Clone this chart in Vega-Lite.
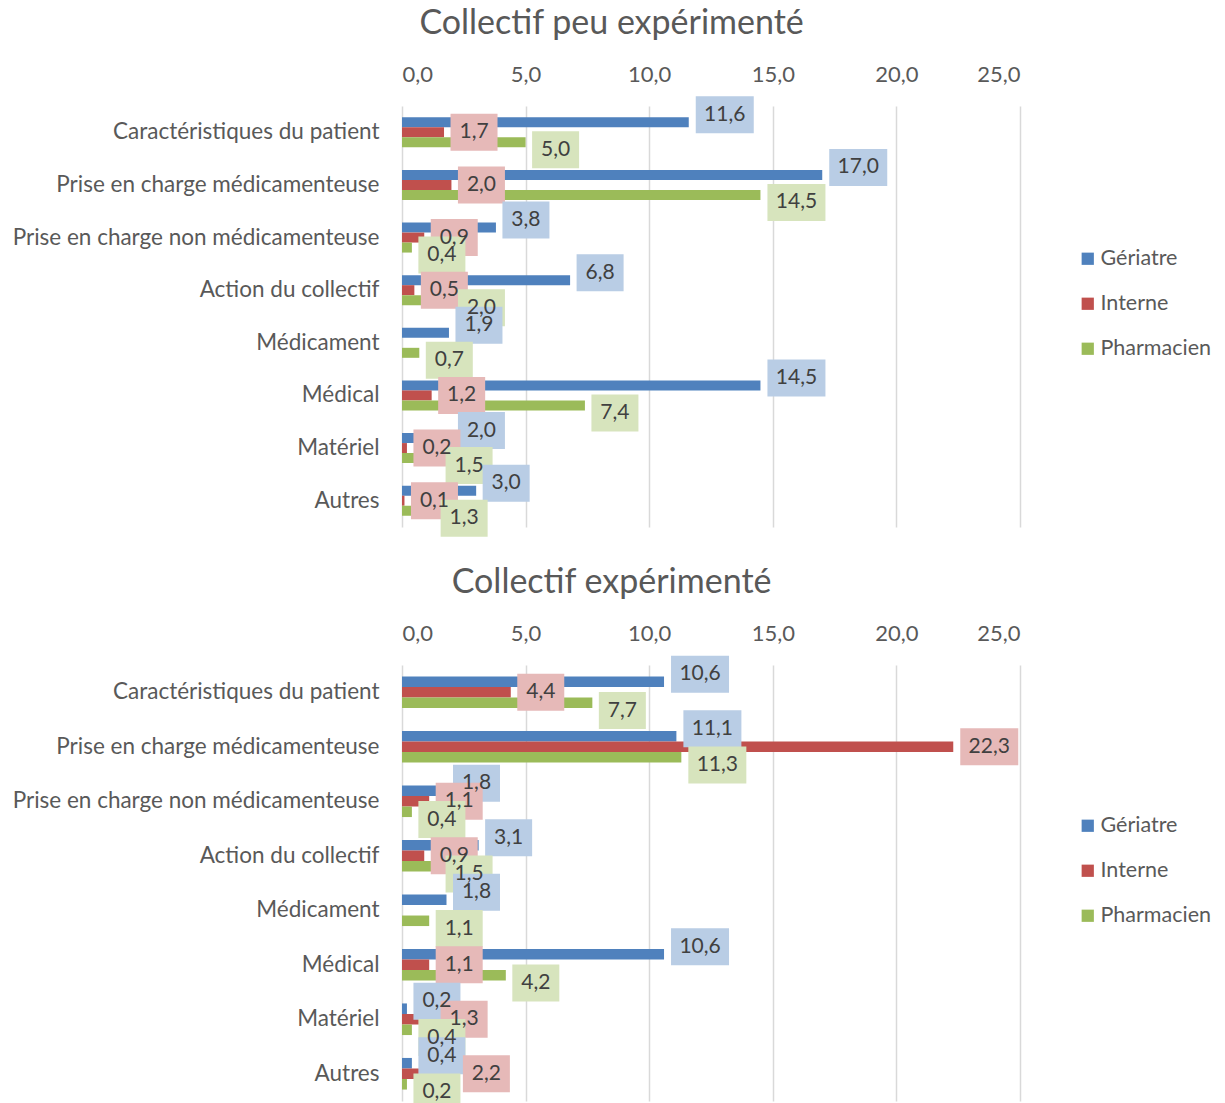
{
  "$schema": "https://vega.github.io/schema/vega-lite/v6.json",
  "padding": {"left": 12, "top": 7, "right": 0, "bottom": 0},
  "background": "white",
  "config": {
    "font": "Lato",
    "view": {"stroke": null},
    "locale": {"number": {"decimal": ",", "thousands": " ", "grouping": [3], "currency": ["", " €"]}},
    "axis": {"labelFont": "Lato", "labelColor": "#595959", "labelFontSize": 22, "domain": false, "ticks": false, "title": null},
    "legend": {"labelFont": "Lato", "labelColor": "#595959", "labelFontSize": 21.5},
    "title": {"font": "Lato", "fontSize": 34, "fontWeight": "normal", "color": "#595959", "anchor": "middle", "frame": "bounds", "offset": 22}
  },
  "datasets": {
    "d": [
      {"panel": "peu", "cat": "Caractéristiques du patient", "series": "Gériatre", "value": 11.6},
      {"panel": "peu", "cat": "Caractéristiques du patient", "series": "Interne", "value": 1.7},
      {"panel": "peu", "cat": "Caractéristiques du patient", "series": "Pharmacien", "value": 5.0},
      {"panel": "peu", "cat": "Prise en charge médicamenteuse", "series": "Gériatre", "value": 17.0},
      {"panel": "peu", "cat": "Prise en charge médicamenteuse", "series": "Interne", "value": 2.0},
      {"panel": "peu", "cat": "Prise en charge médicamenteuse", "series": "Pharmacien", "value": 14.5},
      {"panel": "peu", "cat": "Prise en charge non médicamenteuse", "series": "Gériatre", "value": 3.8},
      {"panel": "peu", "cat": "Prise en charge non médicamenteuse", "series": "Interne", "value": 0.9},
      {"panel": "peu", "cat": "Prise en charge non médicamenteuse", "series": "Pharmacien", "value": 0.4},
      {"panel": "peu", "cat": "Action du collectif", "series": "Gériatre", "value": 6.8},
      {"panel": "peu", "cat": "Action du collectif", "series": "Interne", "value": 0.5},
      {"panel": "peu", "cat": "Action du collectif", "series": "Pharmacien", "value": 2.0},
      {"panel": "peu", "cat": "Médicament", "series": "Gériatre", "value": 1.9},
      {"panel": "peu", "cat": "Médicament", "series": "Pharmacien", "value": 0.7},
      {"panel": "peu", "cat": "Médical", "series": "Gériatre", "value": 14.5},
      {"panel": "peu", "cat": "Médical", "series": "Interne", "value": 1.2},
      {"panel": "peu", "cat": "Médical", "series": "Pharmacien", "value": 7.4},
      {"panel": "peu", "cat": "Matériel", "series": "Gériatre", "value": 2.0},
      {"panel": "peu", "cat": "Matériel", "series": "Interne", "value": 0.2},
      {"panel": "peu", "cat": "Matériel", "series": "Pharmacien", "value": 1.5},
      {"panel": "peu", "cat": "Autres", "series": "Gériatre", "value": 3.0},
      {"panel": "peu", "cat": "Autres", "series": "Interne", "value": 0.1},
      {"panel": "peu", "cat": "Autres", "series": "Pharmacien", "value": 1.3},
      {"panel": "exp", "cat": "Caractéristiques du patient", "series": "Gériatre", "value": 10.6},
      {"panel": "exp", "cat": "Caractéristiques du patient", "series": "Interne", "value": 4.4},
      {"panel": "exp", "cat": "Caractéristiques du patient", "series": "Pharmacien", "value": 7.7},
      {"panel": "exp", "cat": "Prise en charge médicamenteuse", "series": "Gériatre", "value": 11.1},
      {"panel": "exp", "cat": "Prise en charge médicamenteuse", "series": "Interne", "value": 22.3},
      {"panel": "exp", "cat": "Prise en charge médicamenteuse", "series": "Pharmacien", "value": 11.3},
      {"panel": "exp", "cat": "Prise en charge non médicamenteuse", "series": "Gériatre", "value": 1.8},
      {"panel": "exp", "cat": "Prise en charge non médicamenteuse", "series": "Interne", "value": 1.1},
      {"panel": "exp", "cat": "Prise en charge non médicamenteuse", "series": "Pharmacien", "value": 0.4},
      {"panel": "exp", "cat": "Action du collectif", "series": "Gériatre", "value": 3.1},
      {"panel": "exp", "cat": "Action du collectif", "series": "Interne", "value": 0.9},
      {"panel": "exp", "cat": "Action du collectif", "series": "Pharmacien", "value": 1.5},
      {"panel": "exp", "cat": "Médicament", "series": "Gériatre", "value": 1.8},
      {"panel": "exp", "cat": "Médicament", "series": "Pharmacien", "value": 1.1},
      {"panel": "exp", "cat": "Médical", "series": "Gériatre", "value": 10.6},
      {"panel": "exp", "cat": "Médical", "series": "Interne", "value": 1.1},
      {"panel": "exp", "cat": "Médical", "series": "Pharmacien", "value": 4.2},
      {"panel": "exp", "cat": "Matériel", "series": "Gériatre", "value": 0.2},
      {"panel": "exp", "cat": "Matériel", "series": "Interne", "value": 1.3},
      {"panel": "exp", "cat": "Matériel", "series": "Pharmacien", "value": 0.4},
      {"panel": "exp", "cat": "Autres", "series": "Gériatre", "value": 0.4},
      {"panel": "exp", "cat": "Autres", "series": "Interne", "value": 2.2},
      {"panel": "exp", "cat": "Autres", "series": "Pharmacien", "value": 0.2}
    ]
  },
  "resolve": {"scale": {"x": "independent", "y": "independent", "yOffset": "independent", "color": "independent", "fill": "independent"}, "legend": {"color": "independent"}},
  "spacing": 29,
  "vconcat": [
    {
      "title": {"text": "Collectif peu expérimenté"},
      "data": {"name": "d"},
      "transform": [{"filter": "datum.panel === 'peu'"}],
      "width": 618,
      "height": 421,
      "resolve": {"scale": {"yOffset": "independent"}},
      "encoding": {
        "y": {"field": "cat", "type": "nominal", "sort": ["Caractéristiques du patient", "Prise en charge médicamenteuse", "Prise en charge non médicamenteuse", "Action du collectif", "Médicament", "Médical", "Matériel", "Autres"], "scale": {"paddingInner": 0.43, "paddingOuter": 0.215}, "axis": {"labelPadding": 23, "labelLimit": 600, "grid": false, "labelFontSize": 22.5}},
        "x": {"field": "value", "type": "quantitative", "scale": {"domain": [0, 25], "nice": false}, "axis": {"orient": "top", "values": [0, 5, 10, 15, 20, 25], "format": ".1f", "grid": true, "gridColor": "#D9D9D9", "gridWidth": 1.5, "labelPadding": 20}}
      },
      "layer": [
        {"mark": {"type": "bar"}, "encoding": {
          "yOffset": {"field": "series", "type": "nominal", "scale": {"domain": ["Gériatre", "Interne", "Pharmacien"], "paddingInner": 0, "paddingOuter": 0}},
          "color": {"field": "series", "type": "nominal", "scale": {"domain": ["Gériatre", "Interne", "Pharmacien"], "range": ["#4F81BD", "#C0504D", "#9BBB59"]}, "legend": {"title": null, "orient": "none", "legendX": 675, "legendY": 142, "symbolType": "square", "symbolSize": 150, "rowPadding": 22, "labelOffset": 2, "padding": 0}}}},
        {
          "encoding": {"yOffset": {"field": "series", "type": "nominal", "scale": {"domain": ["Gériatre", "Interne", "Pharmacien"], "range": [-2.5, 32.5], "paddingInner": 0, "paddingOuter": 0}}},
          "layer": [
            {"transform": [{"filter": "datum.value < 10"}], "mark": {"type": "point", "shape": "M-1,-0.787 L1,-0.787 L1,0.787 L-1,0.787 Z", "size": 2209, "filled": true, "opacity": 1, "strokeWidth": 0, "xOffset": 30}, "encoding": {"fill": {"field": "series", "type": "nominal", "scale": {"domain": ["Gériatre", "Interne", "Pharmacien"], "range": ["#B9CDE5", "#E6B9B8", "#D7E4BD"]}, "legend": null}}},
            {"transform": [{"filter": "datum.value >= 10"}], "mark": {"type": "point", "shape": "M-1,-0.638 L1,-0.638 L1,0.638 L-1,0.638 Z", "size": 3364, "filled": true, "opacity": 1, "strokeWidth": 0, "xOffset": 36}, "encoding": {"fill": {"field": "series", "type": "nominal", "scale": {"domain": ["Gériatre", "Interne", "Pharmacien"], "range": ["#B9CDE5", "#E6B9B8", "#D7E4BD"]}, "legend": null}}},
            {"transform": [{"filter": "datum.value < 10"}], "mark": {"type": "text", "align": "center", "baseline": "middle", "dx": 30, "fontSize": 21, "color": "#404040"}, "encoding": {"text": {"field": "value", "type": "quantitative", "format": ".1f"}}},
            {"transform": [{"filter": "datum.value >= 10"}], "mark": {"type": "text", "align": "center", "baseline": "middle", "dx": 36, "fontSize": 21, "color": "#404040"}, "encoding": {"text": {"field": "value", "type": "quantitative", "format": ".1f"}}}
          ]
        }
      ]
    },
    {
      "title": {"text": "Collectif expérimenté"},
      "data": {"name": "d"},
      "transform": [{"filter": "datum.panel === 'exp'"}],
      "width": 618,
      "height": 436,
      "resolve": {"scale": {"yOffset": "independent"}},
      "encoding": {
        "y": {"field": "cat", "type": "nominal", "sort": ["Caractéristiques du patient", "Prise en charge médicamenteuse", "Prise en charge non médicamenteuse", "Action du collectif", "Médicament", "Médical", "Matériel", "Autres"], "scale": {"paddingInner": 0.42, "paddingOuter": 0.21}, "axis": {"labelPadding": 23, "labelLimit": 600, "grid": false, "labelFontSize": 22.5}},
        "x": {"field": "value", "type": "quantitative", "scale": {"domain": [0, 25], "nice": false}, "axis": {"orient": "top", "values": [0, 5, 10, 15, 20, 25], "format": ".1f", "grid": true, "gridColor": "#D9D9D9", "gridWidth": 1.5, "labelPadding": 20}}
      },
      "layer": [
        {"mark": {"type": "bar"}, "encoding": {
          "yOffset": {"field": "series", "type": "nominal", "scale": {"domain": ["Gériatre", "Interne", "Pharmacien"], "paddingInner": 0, "paddingOuter": 0}},
          "color": {"field": "series", "type": "nominal", "scale": {"domain": ["Gériatre", "Interne", "Pharmacien"], "range": ["#4F81BD", "#C0504D", "#9BBB59"]}, "legend": {"title": null, "orient": "none", "legendX": 675, "legendY": 150, "symbolType": "square", "symbolSize": 150, "rowPadding": 22, "labelOffset": 2, "padding": 0}}}},
        {
          "encoding": {"yOffset": {"field": "series", "type": "nominal", "scale": {"domain": ["Gériatre", "Interne", "Pharmacien"], "range": [-2.3, 34.1], "paddingInner": 0, "paddingOuter": 0}}},
          "layer": [
            {"transform": [{"filter": "datum.value < 10"}], "mark": {"type": "point", "shape": "M-1,-0.787 L1,-0.787 L1,0.787 L-1,0.787 Z", "size": 2209, "filled": true, "opacity": 1, "strokeWidth": 0, "xOffset": 30}, "encoding": {"fill": {"field": "series", "type": "nominal", "scale": {"domain": ["Gériatre", "Interne", "Pharmacien"], "range": ["#B9CDE5", "#E6B9B8", "#D7E4BD"]}, "legend": null}}},
            {"transform": [{"filter": "datum.value >= 10"}], "mark": {"type": "point", "shape": "M-1,-0.638 L1,-0.638 L1,0.638 L-1,0.638 Z", "size": 3364, "filled": true, "opacity": 1, "strokeWidth": 0, "xOffset": 36}, "encoding": {"fill": {"field": "series", "type": "nominal", "scale": {"domain": ["Gériatre", "Interne", "Pharmacien"], "range": ["#B9CDE5", "#E6B9B8", "#D7E4BD"]}, "legend": null}}},
            {"transform": [{"filter": "datum.value < 10"}], "mark": {"type": "text", "align": "center", "baseline": "middle", "dx": 30, "fontSize": 21, "color": "#404040"}, "encoding": {"text": {"field": "value", "type": "quantitative", "format": ".1f"}}},
            {"transform": [{"filter": "datum.value >= 10"}], "mark": {"type": "text", "align": "center", "baseline": "middle", "dx": 36, "fontSize": 21, "color": "#404040"}, "encoding": {"text": {"field": "value", "type": "quantitative", "format": ".1f"}}}
          ]
        }
      ]
    }
  ]
}
